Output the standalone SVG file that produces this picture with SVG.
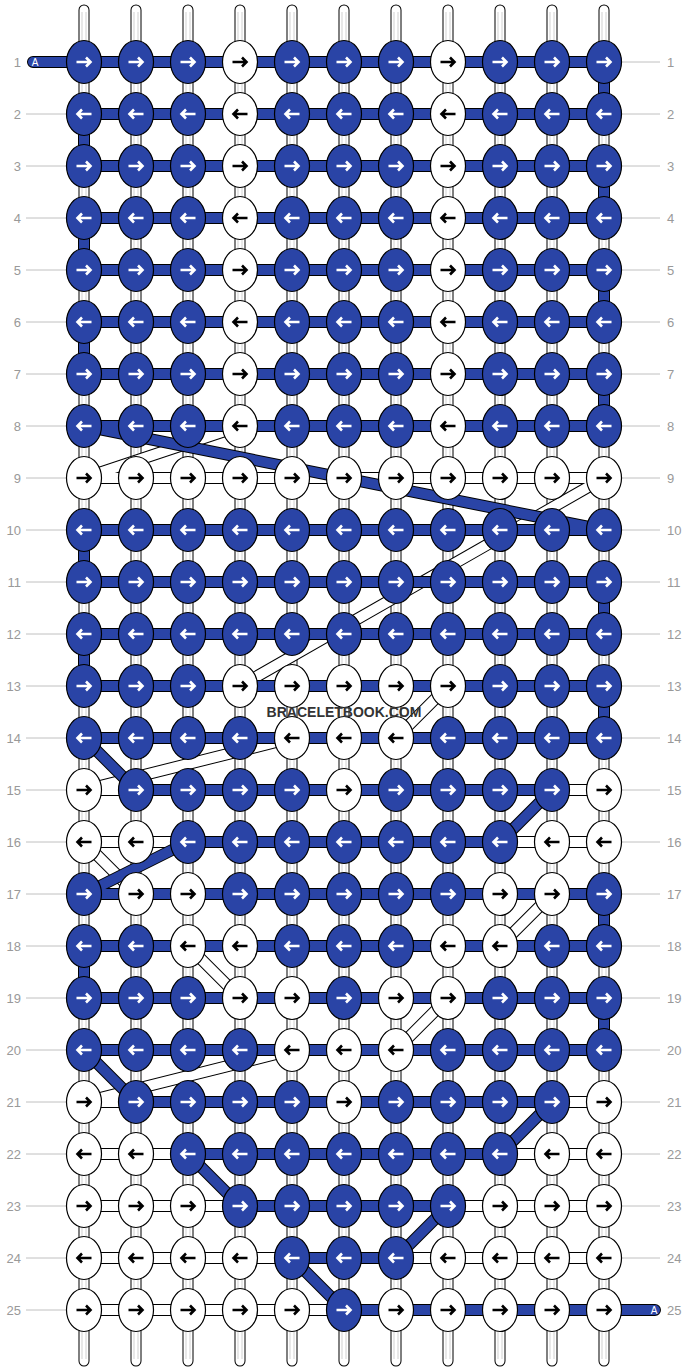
<svg xmlns="http://www.w3.org/2000/svg" xmlns:xlink="http://www.w3.org/1999/xlink" width="688" height="1372" viewBox="0 0 688 1372">
<style>
.vo{stroke:#000;stroke-width:11;stroke-linecap:round;fill:none}
.vf{stroke:#fff;stroke-width:9;stroke-linecap:round;fill:none}
.vg{stroke:#d0d0d0;stroke-width:5;fill:none}
.vw{stroke:#fff;stroke-width:3;fill:none}
.wo{stroke:#000;stroke-width:12;fill:none;stroke-linejoin:round}
.wf{stroke:#fff;stroke-width:10;fill:none;stroke-linejoin:round}
.bo{stroke:#000;stroke-width:12;fill:none;stroke-linejoin:round;stroke-linecap:round}
.bf{stroke:#2a44a6;stroke-width:10;fill:none;stroke-linejoin:round;stroke-linecap:round}
.eb{fill:#2a44a6;stroke:#000;stroke-width:1.2}
.ew{fill:#fff;stroke:#000;stroke-width:1.2}
.aw{stroke:#fff;stroke-width:2.6;fill:none}
.ak{stroke:#000;stroke-width:2.6;fill:none}
.ll{stroke:#c0c0c0;stroke-width:1;fill:none}
.lb{font-family:"Liberation Sans",Arial,sans-serif;font-size:13px;fill:#999}
.ta{font-family:"Liberation Sans",Arial,sans-serif;font-size:10px;fill:#fff}
.wm{font-family:"Liberation Sans",Arial,sans-serif;font-size:14px;font-weight:bold;fill:#333}
</style>
<defs>
<g id="BR"><ellipse rx="17.5" ry="21.5" class="eb"/><path d="M-7.5,0H6M2,-4.5L6.5,0L2,4.5" class="aw"/></g>
<g id="BL"><ellipse rx="17.5" ry="21.5" class="eb"/><path d="M7.5,0H-6M-2,-4.5L-6.5,0L-2,4.5" class="aw"/></g>
<g id="WR"><ellipse rx="17.5" ry="21.5" class="ew"/><path d="M-7.5,0H6M2,-4.5L6.5,0L2,4.5" class="ak"/></g>
<g id="WL"><ellipse rx="17.5" ry="21.5" class="ew"/><path d="M7.5,0H-6M-2,-4.5L-6.5,0L-2,4.5" class="ak"/></g>
</defs>
<rect width="688" height="1372" fill="#fff"/>
<g id="labels">
<path class="ll" d="M26,114H66M26,166H66M26,218H66M26,270H66M26,322H66M26,374H66M26,426H66M26,478H66M26,530H66M26,582H66M26,634H66M26,686H66M26,738H66M26,790H66M26,842H66M26,894H66M26,946H66M26,998H66M26,1050H66M26,1102H66M26,1154H66M26,1206H66M26,1258H66M26,1310H66"/>
<path class="ll" d="M622,62H660M622,114H660M622,166H660M622,218H660M622,270H660M622,322H660M622,374H660M622,426H660M622,478H660M622,530H660M622,582H660M622,634H660M622,686H660M622,738H660M622,790H660M622,842H660M622,894H660M622,946H660M622,998H660M622,1050H660M622,1102H660M622,1154H660M622,1206H660M622,1258H660"/>
<g class="lb" text-anchor="end">
<text x="21" y="66.5">1</text><text x="21" y="118.5">2</text><text x="21" y="170.5">3</text><text x="21" y="222.5">4</text><text x="21" y="274.5">5</text><text x="21" y="326.5">6</text><text x="21" y="378.5">7</text><text x="21" y="430.5">8</text><text x="21" y="482.5">9</text><text x="21" y="534.5">10</text><text x="21" y="586.5">11</text><text x="21" y="638.5">12</text><text x="21" y="690.5">13</text><text x="21" y="742.5">14</text><text x="21" y="794.5">15</text><text x="21" y="846.5">16</text><text x="21" y="898.5">17</text><text x="21" y="950.5">18</text><text x="21" y="1002.5">19</text><text x="21" y="1054.5">20</text><text x="21" y="1106.5">21</text><text x="21" y="1158.5">22</text><text x="21" y="1210.5">23</text><text x="21" y="1262.5">24</text><text x="21" y="1314.5">25</text>
</g>
<g class="lb">
<text x="667" y="66.5">1</text><text x="667" y="118.5">2</text><text x="667" y="170.5">3</text><text x="667" y="222.5">4</text><text x="667" y="274.5">5</text><text x="667" y="326.5">6</text><text x="667" y="378.5">7</text><text x="667" y="430.5">8</text><text x="667" y="482.5">9</text><text x="667" y="534.5">10</text><text x="667" y="586.5">11</text><text x="667" y="638.5">12</text><text x="667" y="690.5">13</text><text x="667" y="742.5">14</text><text x="667" y="794.5">15</text><text x="667" y="846.5">16</text><text x="667" y="898.5">17</text><text x="667" y="950.5">18</text><text x="667" y="1002.5">19</text><text x="667" y="1054.5">20</text><text x="667" y="1106.5">21</text><text x="667" y="1158.5">22</text><text x="667" y="1210.5">23</text><text x="667" y="1262.5">24</text><text x="667" y="1314.5">25</text>
</g>
</g>
<g id="connectors">
<path class="vo" d="M84,10V1361M136,10V1361M188,10V1361M240,10V1361M292,10V1361M344,10V1361M396,10V1361M448,10V1361M500,10V1361M552,10V1361M604,10V1361"/>
<path class="vf" d="M84,10V1361M136,10V1361M188,10V1361M240,10V1361M292,10V1361M344,10V1361M396,10V1361M448,10V1361M500,10V1361M552,10V1361M604,10V1361"/>
<path class="vg" d="M84,12V1359M136,12V1359M188,12V1359M240,12V1359M292,12V1359M344,12V1359M396,12V1359M448,12V1359M500,12V1359M552,12V1359M604,12V1359"/>
<path class="vw" d="M84,12V1359M136,12V1359M188,12V1359M240,12V1359M292,12V1359M344,12V1359M396,12V1359M448,12V1359M500,12V1359M552,12V1359M604,12V1359"/>
<path class="wo" d="M84,478H604M84,790H136M552,790H604M84,842H188M500,842H604M84,1102H136M552,1102H604M84,1154H188M500,1154H604M84,1206H240M448,1206H604M84,1258H292M396,1258H604M84,1310H344M84,478L240,426M604,478L240,686M396,738L448,686M84,790L292,738M84,842L136,894M500,946L552,894M188,946L240,998M396,1050L448,998M84,1102L292,1050"/>
<path class="wf" d="M84,478H604M84,790H136M552,790H604M84,842H188M500,842H604M84,1102H136M552,1102H604M84,1154H188M500,1154H604M84,1206H240M448,1206H604M84,1258H292M396,1258H604M84,1310H344M84,478L240,426M604,478L240,686M396,738L448,686M84,790L292,738M84,842L136,894M500,946L552,894M188,946L240,998M396,1050L448,998M84,1102L292,1050"/>
<path class="bo" d="M33,62H604V114H84V166H604V218H84V270H604V322H84V374H604V426H84L604,530H84V582H604V634H84V686H604V738H84L136,790H552L500,842H188L84,894H604V946H84V998H604V1050H84L136,1102H552L500,1154H188L240,1206H448L396,1258H292L344,1310H655"/>
<path class="bf" d="M33,62H604V114H84V166H604V218H84V270H604V322H84V374H604V426H84L604,530H84V582H604V634H84V686H604V738H84L136,790H552L500,842H188L84,894H604V946H84V998H604V1050H84L136,1102H552L500,1154H188L240,1206H448L396,1258H292L344,1310H655"/>
<text class="ta" x="35" y="65.5" text-anchor="middle">A</text>
<text class="ta" x="654" y="1313.5" text-anchor="middle">A</text>
</g>
<g id="nodes">
<g id="n1-1"><use href="#BR" x="84" y="62"/></g><g id="n1-2"><use href="#BR" x="136" y="62"/></g><g id="n1-3"><use href="#BR" x="188" y="62"/></g><g id="n1-4"><use href="#WR" x="240" y="62"/></g><g id="n1-5"><use href="#BR" x="292" y="62"/></g><g id="n1-6"><use href="#BR" x="344" y="62"/></g><g id="n1-7"><use href="#BR" x="396" y="62"/></g><g id="n1-8"><use href="#WR" x="448" y="62"/></g><g id="n1-9"><use href="#BR" x="500" y="62"/></g><g id="n1-10"><use href="#BR" x="552" y="62"/></g><g id="n1-11"><use href="#BR" x="604" y="62"/></g>
<g id="n2-1"><use href="#BL" x="84" y="114"/></g><g id="n2-2"><use href="#BL" x="136" y="114"/></g><g id="n2-3"><use href="#BL" x="188" y="114"/></g><g id="n2-4"><use href="#WL" x="240" y="114"/></g><g id="n2-5"><use href="#BL" x="292" y="114"/></g><g id="n2-6"><use href="#BL" x="344" y="114"/></g><g id="n2-7"><use href="#BL" x="396" y="114"/></g><g id="n2-8"><use href="#WL" x="448" y="114"/></g><g id="n2-9"><use href="#BL" x="500" y="114"/></g><g id="n2-10"><use href="#BL" x="552" y="114"/></g><g id="n2-11"><use href="#BL" x="604" y="114"/></g>
<g id="n3-1"><use href="#BR" x="84" y="166"/></g><g id="n3-2"><use href="#BR" x="136" y="166"/></g><g id="n3-3"><use href="#BR" x="188" y="166"/></g><g id="n3-4"><use href="#WR" x="240" y="166"/></g><g id="n3-5"><use href="#BR" x="292" y="166"/></g><g id="n3-6"><use href="#BR" x="344" y="166"/></g><g id="n3-7"><use href="#BR" x="396" y="166"/></g><g id="n3-8"><use href="#WR" x="448" y="166"/></g><g id="n3-9"><use href="#BR" x="500" y="166"/></g><g id="n3-10"><use href="#BR" x="552" y="166"/></g><g id="n3-11"><use href="#BR" x="604" y="166"/></g>
<g id="n4-1"><use href="#BL" x="84" y="218"/></g><g id="n4-2"><use href="#BL" x="136" y="218"/></g><g id="n4-3"><use href="#BL" x="188" y="218"/></g><g id="n4-4"><use href="#WL" x="240" y="218"/></g><g id="n4-5"><use href="#BL" x="292" y="218"/></g><g id="n4-6"><use href="#BL" x="344" y="218"/></g><g id="n4-7"><use href="#BL" x="396" y="218"/></g><g id="n4-8"><use href="#WL" x="448" y="218"/></g><g id="n4-9"><use href="#BL" x="500" y="218"/></g><g id="n4-10"><use href="#BL" x="552" y="218"/></g><g id="n4-11"><use href="#BL" x="604" y="218"/></g>
<g id="n5-1"><use href="#BR" x="84" y="270"/></g><g id="n5-2"><use href="#BR" x="136" y="270"/></g><g id="n5-3"><use href="#BR" x="188" y="270"/></g><g id="n5-4"><use href="#WR" x="240" y="270"/></g><g id="n5-5"><use href="#BR" x="292" y="270"/></g><g id="n5-6"><use href="#BR" x="344" y="270"/></g><g id="n5-7"><use href="#BR" x="396" y="270"/></g><g id="n5-8"><use href="#WR" x="448" y="270"/></g><g id="n5-9"><use href="#BR" x="500" y="270"/></g><g id="n5-10"><use href="#BR" x="552" y="270"/></g><g id="n5-11"><use href="#BR" x="604" y="270"/></g>
<g id="n6-1"><use href="#BL" x="84" y="322"/></g><g id="n6-2"><use href="#BL" x="136" y="322"/></g><g id="n6-3"><use href="#BL" x="188" y="322"/></g><g id="n6-4"><use href="#WL" x="240" y="322"/></g><g id="n6-5"><use href="#BL" x="292" y="322"/></g><g id="n6-6"><use href="#BL" x="344" y="322"/></g><g id="n6-7"><use href="#BL" x="396" y="322"/></g><g id="n6-8"><use href="#WL" x="448" y="322"/></g><g id="n6-9"><use href="#BL" x="500" y="322"/></g><g id="n6-10"><use href="#BL" x="552" y="322"/></g><g id="n6-11"><use href="#BL" x="604" y="322"/></g>
<g id="n7-1"><use href="#BR" x="84" y="374"/></g><g id="n7-2"><use href="#BR" x="136" y="374"/></g><g id="n7-3"><use href="#BR" x="188" y="374"/></g><g id="n7-4"><use href="#WR" x="240" y="374"/></g><g id="n7-5"><use href="#BR" x="292" y="374"/></g><g id="n7-6"><use href="#BR" x="344" y="374"/></g><g id="n7-7"><use href="#BR" x="396" y="374"/></g><g id="n7-8"><use href="#WR" x="448" y="374"/></g><g id="n7-9"><use href="#BR" x="500" y="374"/></g><g id="n7-10"><use href="#BR" x="552" y="374"/></g><g id="n7-11"><use href="#BR" x="604" y="374"/></g>
<g id="n8-1"><use href="#BL" x="84" y="426"/></g><g id="n8-2"><use href="#BL" x="136" y="426"/></g><g id="n8-3"><use href="#BL" x="188" y="426"/></g><g id="n8-4"><use href="#WL" x="240" y="426"/></g><g id="n8-5"><use href="#BL" x="292" y="426"/></g><g id="n8-6"><use href="#BL" x="344" y="426"/></g><g id="n8-7"><use href="#BL" x="396" y="426"/></g><g id="n8-8"><use href="#WL" x="448" y="426"/></g><g id="n8-9"><use href="#BL" x="500" y="426"/></g><g id="n8-10"><use href="#BL" x="552" y="426"/></g><g id="n8-11"><use href="#BL" x="604" y="426"/></g>
<g id="n9-1"><use href="#WR" x="84" y="478"/></g><g id="n9-2"><use href="#WR" x="136" y="478"/></g><g id="n9-3"><use href="#WR" x="188" y="478"/></g><g id="n9-4"><use href="#WR" x="240" y="478"/></g><g id="n9-5"><use href="#WR" x="292" y="478"/></g><g id="n9-6"><use href="#WR" x="344" y="478"/></g><g id="n9-7"><use href="#WR" x="396" y="478"/></g><g id="n9-8"><use href="#WR" x="448" y="478"/></g><g id="n9-9"><use href="#WR" x="500" y="478"/></g><g id="n9-10"><use href="#WR" x="552" y="478"/></g><g id="n9-11"><use href="#WR" x="604" y="478"/></g>
<g id="n10-1"><use href="#BL" x="84" y="530"/></g><g id="n10-2"><use href="#BL" x="136" y="530"/></g><g id="n10-3"><use href="#BL" x="188" y="530"/></g><g id="n10-4"><use href="#BL" x="240" y="530"/></g><g id="n10-5"><use href="#BL" x="292" y="530"/></g><g id="n10-6"><use href="#BL" x="344" y="530"/></g><g id="n10-7"><use href="#BL" x="396" y="530"/></g><g id="n10-8"><use href="#BL" x="448" y="530"/></g><g id="n10-9"><use href="#BL" x="500" y="530"/></g><g id="n10-10"><use href="#BL" x="552" y="530"/></g><g id="n10-11"><use href="#BL" x="604" y="530"/></g>
<g id="n11-1"><use href="#BR" x="84" y="582"/></g><g id="n11-2"><use href="#BR" x="136" y="582"/></g><g id="n11-3"><use href="#BR" x="188" y="582"/></g><g id="n11-4"><use href="#BR" x="240" y="582"/></g><g id="n11-5"><use href="#BR" x="292" y="582"/></g><g id="n11-6"><use href="#BR" x="344" y="582"/></g><g id="n11-7"><use href="#BR" x="396" y="582"/></g><g id="n11-8"><use href="#BR" x="448" y="582"/></g><g id="n11-9"><use href="#BR" x="500" y="582"/></g><g id="n11-10"><use href="#BR" x="552" y="582"/></g><g id="n11-11"><use href="#BR" x="604" y="582"/></g>
<g id="n12-1"><use href="#BL" x="84" y="634"/></g><g id="n12-2"><use href="#BL" x="136" y="634"/></g><g id="n12-3"><use href="#BL" x="188" y="634"/></g><g id="n12-4"><use href="#BL" x="240" y="634"/></g><g id="n12-5"><use href="#BL" x="292" y="634"/></g><g id="n12-6"><use href="#BL" x="344" y="634"/></g><g id="n12-7"><use href="#BL" x="396" y="634"/></g><g id="n12-8"><use href="#BL" x="448" y="634"/></g><g id="n12-9"><use href="#BL" x="500" y="634"/></g><g id="n12-10"><use href="#BL" x="552" y="634"/></g><g id="n12-11"><use href="#BL" x="604" y="634"/></g>
<g id="n13-1"><use href="#BR" x="84" y="686"/></g><g id="n13-2"><use href="#BR" x="136" y="686"/></g><g id="n13-3"><use href="#BR" x="188" y="686"/></g><g id="n13-4"><use href="#WR" x="240" y="686"/></g><g id="n13-5"><use href="#WR" x="292" y="686"/></g><g id="n13-6"><use href="#WR" x="344" y="686"/></g><g id="n13-7"><use href="#WR" x="396" y="686"/></g><g id="n13-8"><use href="#WR" x="448" y="686"/></g><g id="n13-9"><use href="#BR" x="500" y="686"/></g><g id="n13-10"><use href="#BR" x="552" y="686"/></g><g id="n13-11"><use href="#BR" x="604" y="686"/></g>
<g id="n14-1"><use href="#BL" x="84" y="738"/></g><g id="n14-2"><use href="#BL" x="136" y="738"/></g><g id="n14-3"><use href="#BL" x="188" y="738"/></g><g id="n14-4"><use href="#BL" x="240" y="738"/></g><g id="n14-5"><use href="#WL" x="292" y="738"/></g><g id="n14-6"><use href="#WL" x="344" y="738"/></g><g id="n14-7"><use href="#WL" x="396" y="738"/></g><g id="n14-8"><use href="#BL" x="448" y="738"/></g><g id="n14-9"><use href="#BL" x="500" y="738"/></g><g id="n14-10"><use href="#BL" x="552" y="738"/></g><g id="n14-11"><use href="#BL" x="604" y="738"/></g>
<g id="n15-1"><use href="#WR" x="84" y="790"/></g><g id="n15-2"><use href="#BR" x="136" y="790"/></g><g id="n15-3"><use href="#BR" x="188" y="790"/></g><g id="n15-4"><use href="#BR" x="240" y="790"/></g><g id="n15-5"><use href="#BR" x="292" y="790"/></g><g id="n15-6"><use href="#WR" x="344" y="790"/></g><g id="n15-7"><use href="#BR" x="396" y="790"/></g><g id="n15-8"><use href="#BR" x="448" y="790"/></g><g id="n15-9"><use href="#BR" x="500" y="790"/></g><g id="n15-10"><use href="#BR" x="552" y="790"/></g><g id="n15-11"><use href="#WR" x="604" y="790"/></g>
<g id="n16-1"><use href="#WL" x="84" y="842"/></g><g id="n16-2"><use href="#WL" x="136" y="842"/></g><g id="n16-3"><use href="#BL" x="188" y="842"/></g><g id="n16-4"><use href="#BL" x="240" y="842"/></g><g id="n16-5"><use href="#BL" x="292" y="842"/></g><g id="n16-6"><use href="#BL" x="344" y="842"/></g><g id="n16-7"><use href="#BL" x="396" y="842"/></g><g id="n16-8"><use href="#BL" x="448" y="842"/></g><g id="n16-9"><use href="#BL" x="500" y="842"/></g><g id="n16-10"><use href="#WL" x="552" y="842"/></g><g id="n16-11"><use href="#WL" x="604" y="842"/></g>
<g id="n17-1"><use href="#BR" x="84" y="894"/></g><g id="n17-2"><use href="#WR" x="136" y="894"/></g><g id="n17-3"><use href="#WR" x="188" y="894"/></g><g id="n17-4"><use href="#BR" x="240" y="894"/></g><g id="n17-5"><use href="#BR" x="292" y="894"/></g><g id="n17-6"><use href="#BR" x="344" y="894"/></g><g id="n17-7"><use href="#BR" x="396" y="894"/></g><g id="n17-8"><use href="#BR" x="448" y="894"/></g><g id="n17-9"><use href="#WR" x="500" y="894"/></g><g id="n17-10"><use href="#WR" x="552" y="894"/></g><g id="n17-11"><use href="#BR" x="604" y="894"/></g>
<g id="n18-1"><use href="#BL" x="84" y="946"/></g><g id="n18-2"><use href="#BL" x="136" y="946"/></g><g id="n18-3"><use href="#WL" x="188" y="946"/></g><g id="n18-4"><use href="#WL" x="240" y="946"/></g><g id="n18-5"><use href="#BL" x="292" y="946"/></g><g id="n18-6"><use href="#BL" x="344" y="946"/></g><g id="n18-7"><use href="#BL" x="396" y="946"/></g><g id="n18-8"><use href="#WL" x="448" y="946"/></g><g id="n18-9"><use href="#WL" x="500" y="946"/></g><g id="n18-10"><use href="#BL" x="552" y="946"/></g><g id="n18-11"><use href="#BL" x="604" y="946"/></g>
<g id="n19-1"><use href="#BR" x="84" y="998"/></g><g id="n19-2"><use href="#BR" x="136" y="998"/></g><g id="n19-3"><use href="#BR" x="188" y="998"/></g><g id="n19-4"><use href="#WR" x="240" y="998"/></g><g id="n19-5"><use href="#WR" x="292" y="998"/></g><g id="n19-6"><use href="#BR" x="344" y="998"/></g><g id="n19-7"><use href="#WR" x="396" y="998"/></g><g id="n19-8"><use href="#WR" x="448" y="998"/></g><g id="n19-9"><use href="#BR" x="500" y="998"/></g><g id="n19-10"><use href="#BR" x="552" y="998"/></g><g id="n19-11"><use href="#BR" x="604" y="998"/></g>
<g id="n20-1"><use href="#BL" x="84" y="1050"/></g><g id="n20-2"><use href="#BL" x="136" y="1050"/></g><g id="n20-3"><use href="#BL" x="188" y="1050"/></g><g id="n20-4"><use href="#BL" x="240" y="1050"/></g><g id="n20-5"><use href="#WL" x="292" y="1050"/></g><g id="n20-6"><use href="#WL" x="344" y="1050"/></g><g id="n20-7"><use href="#WL" x="396" y="1050"/></g><g id="n20-8"><use href="#BL" x="448" y="1050"/></g><g id="n20-9"><use href="#BL" x="500" y="1050"/></g><g id="n20-10"><use href="#BL" x="552" y="1050"/></g><g id="n20-11"><use href="#BL" x="604" y="1050"/></g>
<g id="n21-1"><use href="#WR" x="84" y="1102"/></g><g id="n21-2"><use href="#BR" x="136" y="1102"/></g><g id="n21-3"><use href="#BR" x="188" y="1102"/></g><g id="n21-4"><use href="#BR" x="240" y="1102"/></g><g id="n21-5"><use href="#BR" x="292" y="1102"/></g><g id="n21-6"><use href="#WR" x="344" y="1102"/></g><g id="n21-7"><use href="#BR" x="396" y="1102"/></g><g id="n21-8"><use href="#BR" x="448" y="1102"/></g><g id="n21-9"><use href="#BR" x="500" y="1102"/></g><g id="n21-10"><use href="#BR" x="552" y="1102"/></g><g id="n21-11"><use href="#WR" x="604" y="1102"/></g>
<g id="n22-1"><use href="#WL" x="84" y="1154"/></g><g id="n22-2"><use href="#WL" x="136" y="1154"/></g><g id="n22-3"><use href="#BL" x="188" y="1154"/></g><g id="n22-4"><use href="#BL" x="240" y="1154"/></g><g id="n22-5"><use href="#BL" x="292" y="1154"/></g><g id="n22-6"><use href="#BL" x="344" y="1154"/></g><g id="n22-7"><use href="#BL" x="396" y="1154"/></g><g id="n22-8"><use href="#BL" x="448" y="1154"/></g><g id="n22-9"><use href="#BL" x="500" y="1154"/></g><g id="n22-10"><use href="#WL" x="552" y="1154"/></g><g id="n22-11"><use href="#WL" x="604" y="1154"/></g>
<g id="n23-1"><use href="#WR" x="84" y="1206"/></g><g id="n23-2"><use href="#WR" x="136" y="1206"/></g><g id="n23-3"><use href="#WR" x="188" y="1206"/></g><g id="n23-4"><use href="#BR" x="240" y="1206"/></g><g id="n23-5"><use href="#BR" x="292" y="1206"/></g><g id="n23-6"><use href="#BR" x="344" y="1206"/></g><g id="n23-7"><use href="#BR" x="396" y="1206"/></g><g id="n23-8"><use href="#BR" x="448" y="1206"/></g><g id="n23-9"><use href="#WR" x="500" y="1206"/></g><g id="n23-10"><use href="#WR" x="552" y="1206"/></g><g id="n23-11"><use href="#WR" x="604" y="1206"/></g>
<g id="n24-1"><use href="#WL" x="84" y="1258"/></g><g id="n24-2"><use href="#WL" x="136" y="1258"/></g><g id="n24-3"><use href="#WL" x="188" y="1258"/></g><g id="n24-4"><use href="#WL" x="240" y="1258"/></g><g id="n24-5"><use href="#BL" x="292" y="1258"/></g><g id="n24-6"><use href="#BL" x="344" y="1258"/></g><g id="n24-7"><use href="#BL" x="396" y="1258"/></g><g id="n24-8"><use href="#WL" x="448" y="1258"/></g><g id="n24-9"><use href="#WL" x="500" y="1258"/></g><g id="n24-10"><use href="#WL" x="552" y="1258"/></g><g id="n24-11"><use href="#WL" x="604" y="1258"/></g>
<g id="n25-1"><use href="#WR" x="84" y="1310"/></g><g id="n25-2"><use href="#WR" x="136" y="1310"/></g><g id="n25-3"><use href="#WR" x="188" y="1310"/></g><g id="n25-4"><use href="#WR" x="240" y="1310"/></g><g id="n25-5"><use href="#WR" x="292" y="1310"/></g><g id="n25-6"><use href="#BR" x="344" y="1310"/></g><g id="n25-7"><use href="#WR" x="396" y="1310"/></g><g id="n25-8"><use href="#WR" x="448" y="1310"/></g><g id="n25-9"><use href="#WR" x="500" y="1310"/></g><g id="n25-10"><use href="#WR" x="552" y="1310"/></g><g id="n25-11"><use href="#WR" x="604" y="1310"/></g>
</g>
<text class="wm" x="344" y="717" text-anchor="middle">BRACELETBOOK.COM</text>
</svg>
